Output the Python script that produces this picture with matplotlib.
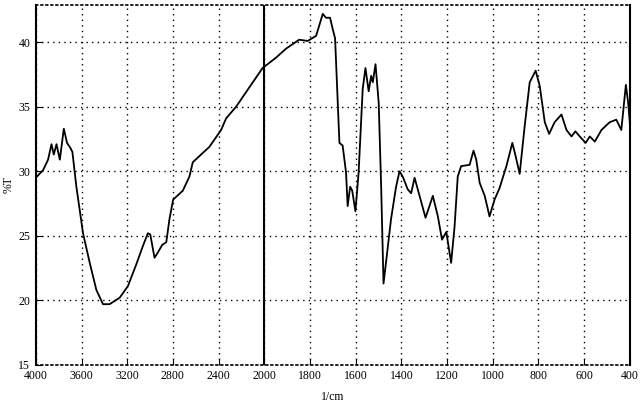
import numpy as np
import matplotlib
matplotlib.use('Agg')
import matplotlib.pyplot as plt

# wavenumber (1/cm) and transmittance (%T)
wavenumber = [4000, 3936, 3893, 3863, 3843, 3819, 3790, 3755, 3727, 3697, 3680,
              3645, 3587, 3528, 3470, 3412, 3354, 3266, 3194, 3120, 3063, 3019,
              2998, 2961, 2932, 2893, 2858, 2830, 2798, 2713, 2655, 2626, 2480,
              2378, 2334, 2247, 2131, 2015, 1949, 1905, 1847, 1810, 1773, 1744,
              1730, 1712, 1700, 1690, 1671, 1657, 1642, 1635, 1624, 1615, 1601,
              1587, 1569, 1557, 1543, 1532, 1525, 1513, 1499, 1488, 1478, 1464,
              1445, 1423, 1408, 1394, 1372, 1357, 1342, 1328, 1294, 1262, 1240,
              1222, 1203, 1182, 1167, 1153, 1138, 1101, 1084, 1072, 1057, 1035,
              1014, 992, 970, 940, 914, 900, 882, 860, 838, 812, 794, 772, 753,
              729, 699, 677, 655, 638, 619, 593, 575, 553, 524, 488, 459, 437,
              417, 407, 400]
transmittance = [29.5, 30.1, 30.9, 32.1, 31.3, 32.1, 30.9, 33.3, 32.2, 31.8, 31.5,
                 28.8, 25.2, 22.9, 20.8, 19.7, 19.7, 20.2, 21.1, 22.8, 24.2, 25.2,
                 25.1, 23.3, 23.7, 24.3, 24.5, 26.3, 27.8, 28.5, 29.6, 30.7, 31.9,
                 33.2, 34.1, 35.0, 36.5, 38.0, 38.8, 39.5, 40.2, 40.1, 40.5, 42.2,
                 41.9, 41.9, 41.0, 40.3, 32.2, 32.0, 29.9, 27.3, 28.8, 28.5, 26.9,
                 29.9, 36.4, 38.0, 36.2, 37.4, 36.9, 38.3, 35.3, 28.6, 21.3, 23.4,
                 26.3, 28.8, 30.0, 29.6, 28.6, 28.3, 29.5, 28.6, 26.4, 28.1, 26.5,
                 24.7, 25.3, 22.9, 25.7, 29.6, 30.4, 30.5, 31.6, 30.9, 29.1, 28.1,
                 26.5, 27.8, 28.7, 30.4, 32.2, 31.2, 29.8, 33.5, 36.9, 37.8, 36.6,
                 33.8, 32.9, 33.8, 34.4, 33.2, 32.7, 33.1, 32.7, 32.2, 32.7, 32.3,
                 33.2, 33.8, 34.0, 33.2, 36.7, 35.3, 33.8]

xticks = [4000, 3600, 3200, 2800, 2400, 2000, 1800, 1600, 1400, 1200, 1000, 800, 600, 400]
yticks = [15, 20, 25, 30, 35, 40]


# axis is compressed by half above 2000 1/cm, like the instrument printout
def fwd(x):
    x = np.asarray(x, dtype=float)
    return np.where(x < 2000, x, 2000 + (x - 2000) / 2)


def inv(u):
    u = np.asarray(u, dtype=float)
    return np.where(u < 2000, u, 2000 + (u - 2000) * 2)


plt.rcParams['font.family'] = ['Liberation Serif', 'DejaVu Serif']

fig = plt.figure(figsize=(6.4, 4.04), dpi=100)
ax = fig.add_axes([0.056, 0.097, 0.928, 0.891])
ax.set_xscale('function', functions=(fwd, inv))

ax.plot(wavenumber, transmittance, color='black', lw=1.3)

ax.set_xlim(4000, 400)
ax.set_ylim(15, 42.9)
ax.set_xticks(xticks)
ax.set_xticklabels([str(t) for t in xticks])
ax.set_yticks(yticks)
ax.minorticks_off()

ax.grid(True, color='black', linestyle=(0, (1, 3)), linewidth=1.0)
ax.axvline(2000, color='black', lw=1.5)

for s in ['left', 'right']:
    ax.spines[s].set_linewidth(1.5)
for s in ['top', 'bottom']:
    ax.spines[s].set_linestyle((0, (1, 2)))
    ax.spines[s].set_linewidth(1.2)

ax.tick_params(direction='in', length=4, labelsize=8.5, pad=4)
ax.set_xlabel('1/cm', fontsize=8.5, labelpad=6)
ax.set_ylabel('%T', fontsize=8.5)
ax.yaxis.set_label_coords(-0.035, 0.5)

plt.savefig('out.png', dpi=100)
